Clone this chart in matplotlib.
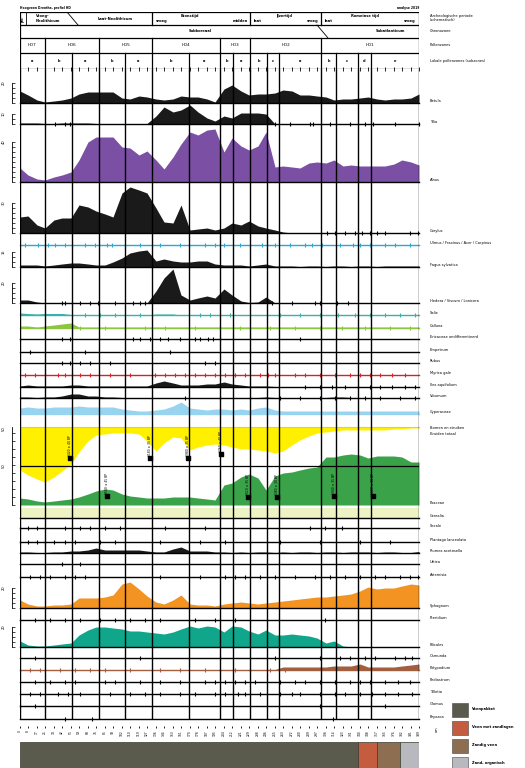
import matplotlib
matplotlib.use("Agg")
import matplotlib.pyplot as plt
from matplotlib.patches import Rectangle

plt.rcParams['font.family'] = 'DejaVu Sans'

W, H = 525, 768
LEFT, RIGHT = 20, 419
FS = 2.6

# sample depths (cm)
depths = [0, 8, 17, 25, 34, 42, 51, 59, 68, 76, 85, 93, 102, 110, 119, 127,
          136, 144, 153, 161, 170, 178, 187, 195, 204, 212, 221, 229, 238, 246, 255, 263,
          272, 280, 289, 297, 306, 314, 323, 331, 340, 348, 357, 365, 374, 382, 391, 399]

zone_bounds = [25, 52, 79, 105, 132, 169, 200, 213, 230, 247, 259, 301, 316, 338, 351]
zone_names = ["HD7", "HD6", "HD5", "HD4", "HD3", "HD2", "HD1"]
zone_edges = [0, 25, 79, 132, 200, 230, 301, 399]
subzone_names = ["a", "b", "a", "b", "a", "b", "a", "b", "a", "b", "c", "a", "b", "c", "d", "e"]

# pollen percentages
betula = [12, 8, 3, 1, 2, 3, 5, 9, 11, 11, 11, 11, 5, 4, 7, 6,
          4, 3, 4, 7, 6, 6, 4, 1, 14, 18, 12, 8, 9, 9, 10, 13,
          12, 8, 8, 7, 6, 3, 4, 4, 5, 6, 4, 3, 4, 4, 5, 9]
tilia = [1, 1, 1, 0.5, 0.5, 1, 1, 1, 1, 0.5, 0.5, 0.5, 0.5, 0.5, 0.5, 0.5,
         8, 17, 12, 14, 19, 12, 6, 3, 8, 6, 11, 11, 11, 10, 0, 0,
         0, 0, 0, 0, 0, 0, 0, 0, 0, 0, 0, 0, 0, 0, 0, 0]
alnus = [14, 7, 3, 2, 5, 7, 10, 22, 40, 45, 45, 45, 35, 34, 27, 31,
         22, 13, 25, 38, 50, 47, 52, 53, 30, 44, 36, 32, 36, 50, 15, 16,
         15, 14, 19, 20, 19, 22, 16, 17, 16, 16, 16, 16, 18, 22, 20, 17]
corylus = [16, 17, 8, 5, 13, 15, 15, 28, 26, 22, 19, 16, 40, 46, 43, 40,
           25, 11, 10, 28, 3, 4, 5, 3, 5, 10, 8, 12, 7, 5, 3, 1,
           0, 0, 0, 0, 0, 0, 0, 0, 0, 0, 0, 0, 0, 0, 0, 0]
fagus = [2, 2, 2, 1, 2, 3, 4, 4, 3, 2, 2, 5, 9, 14, 16, 17,
         6, 8, 6, 5, 5, 6, 6, 3, 2, 2, 2, 1, 2, 3, 1, 1,
         1, 0.5, 1, 1, 0.5, 1, 1, 0.5, 1, 1, 0.5, 1, 1, 1, 1, 1]
hedera = [3, 3, 1, 0, 0, 0, 0, 0, 0, 0, 0, 0, 0, 0, 0, 0,
          12, 25, 34, 8, 3, 5, 7, 5, 14, 8, 2, 0.5, 1, 6, 0, 0,
          0, 0, 0, 0, 0, 0, 0, 0, 0, 0, 0, 0, 0, 0, 0, 0]
salix = [2, 1.5, 1, 1.5, 1.5, 1.5, 0.5, 0, 0, 0, 0, 0, 0, 0, 0, 0,
         1, 1, 1, 0, 0, 0, 0, 0, 0, 0, 0, 0, 0, 0, 0, 0,
         0, 0, 0, 0, 0, 0, 0, 0, 0, 0, 0, 0, 0, 0, 0, 0]
calluna = [2, 2, 1, 2, 3, 4, 5, 1, 1, 1, 1, 1, 1, 1, 1, 1,
           1, 1, 1, 1, 1, 1, 1, 1, 1, 1, 1, 1, 1, 1, 1, 1,
           1, 1, 1, 1, 1, 1, 1, 1, 1, 1, 1, 1, 1, 1, 1, 1]
ilex = [1, 2, 1, 1, 1, 1, 2, 2, 1, 1, 1, 1, 1, 1, 1, 1,
        4, 6, 4, 2, 2, 2, 3, 3, 5, 3, 2, 1, 1, 1, 0.5, 0.5,
        0.5, 0.5, 0.5, 0.5, 0.5, 0.5, 0.5, 0.5, 0.5, 0.5, 0.5, 0.5, 0.5, 0.5, 0.5, 0.5]
viburnum = [1, 1, 0.5, 1, 1, 2, 4, 4, 2, 2, 1, 1, 0.5, 0.5, 0.5, 0.5,
            0.5, 0.5, 0.5, 0.5, 0.5, 0.5, 0.5, 0.5, 0.5, 0.5, 0.5, 0.5, 0.5, 1, 0.5, 0.5,
            0.5, 0.5, 0.5, 0.5, 0.5, 1, 1, 0.5, 0.5, 0.5, 0.5, 0.5, 0.5, 0.5, 0.5, 0.5]
cyperaceae = [6, 7, 6, 6, 7, 7, 7, 8, 7, 7, 7, 7, 5, 4, 3, 3,
              4, 5, 8, 12, 6, 5, 4, 5, 5, 4, 5, 4, 6, 7, 4, 3,
              3, 3, 3, 3, 3, 3, 3, 3, 3, 3, 3, 3, 3, 3, 3, 3]
trees_shrubs = [43, 48, 52, 55, 50, 44, 37, 25, 14, 8, 7, 6, 6, 6, 7, 14,
                24, 16, 10, 11, 23, 20, 18, 17, 18, 20, 22, 22, 23, 24, 26, 24,
                18, 13, 9, 6, 5, 4, 3, 3, 3, 3, 3, 3, 2, 2, 1, 1]
poaceae = [7, 6, 4, 3, 4, 5, 6, 8, 11, 14, 16, 15, 11, 9, 8, 7,
           7, 7, 8, 8, 8, 7, 6, 5, 20, 22, 28, 31, 27, 15, 29, 32,
           33, 35, 37, 38, 48, 48, 50, 51, 50, 47, 49, 49, 49, 48, 43, 43]
cerealia = [10, 10, 10, 10, 10, 10, 10, 10, 10, 10, 10, 10, 10, 10, 10, 10,
            10, 10, 10, 10, 10, 10, 10, 10, 10, 10, 10, 10, 10, 10, 10, 10,
            10, 10, 10, 10, 10, 10, 10, 10, 10, 10, 10, 10, 10, 10, 10, 10]
rumex = [1, 1, 0.5, 0.5, 1, 1, 2, 2, 3, 5, 3, 3, 3, 3, 3, 2,
         1, 1, 4, 6, 2, 2, 2, 1, 1, 0.5, 1, 0.5, 1, 1, 0.5, 1,
         0.5, 1, 1, 0.5, 1, 1, 0.5, 1, 1, 1, 0.5, 1, 1, 0.5, 0.5, 1.5]
sphagnum = [8, 4, 2, 2, 3, 3, 4, 10, 10, 10, 11, 13, 24, 26, 19, 12,
            6, 4, 8, 13, 4, 3, 3, 2, 4, 5, 6, 5, 4, 5, 6, 7,
            8, 9, 10, 11, 11, 12, 13, 14, 17, 21, 19, 20, 20, 22, 24, 23]
filicales = [6, 2, 1, 1, 2, 3, 4, 12, 17, 20, 20, 19, 18, 16, 16, 15,
             14, 13, 15, 18, 21, 19, 21, 20, 15, 21, 20, 16, 13, 17, 12, 12,
             13, 12, 11, 9, 4, 6, 1, 0, 0, 0, 0, 0, 0, 0, 0, 0]
polypodium = [0.5, 0.5, 0.5, 0.5, 0.5, 0.5, 0.5, 0.5, 0.5, 0.5, 0.5, 0.5, 0.5, 0.5, 0.5, 0.5,
              0.5, 0.5, 0.5, 0.5, 0.5, 0.5, 0.5, 0.5, 0.5, 0.5, 0.5, 0.5, 0.5, 0.5, 0.5, 3,
              3, 3, 3, 3, 3, 4, 4, 4, 6, 3, 3, 3, 3, 4, 5, 6]

# presence of rare taxa (depths)
tilia_pres = [25, 35, 45, 50, 255, 270, 290, 293, 310, 330, 345, 353, 375, 399]
corylus_pres = [307, 315, 325, 335, 342, 350, 357, 365, 390, 398]
ulmus_pres = [5, 18, 28, 35, 45, 52, 65, 75, 87, 92, 105, 120, 140, 160, 185, 195,
              204, 220, 242, 255, 270, 285, 292, 302, 320, 333, 340, 350, 365, 375, 390]
hedera_pres = [42, 45, 52, 60, 70, 78, 95, 113, 120, 125, 252, 272, 295, 300, 317, 328]
salix_pres = [65, 80, 95, 120, 180, 190, 200, 210, 260, 280, 300, 318, 335, 350, 365, 380, 395]
calluna_pres = [60, 85, 105, 125, 145, 175, 200, 220, 250, 275, 300, 322, 345, 370, 390]
erica_pres = [0, 42, 50, 113, 120, 130, 140, 148, 160, 175, 180, 188, 193, 200, 280]
empetrum_pres = [10, 65, 150, 230]
rubus_pres = [42, 50, 60, 70, 90, 185, 195]
myrica_pres = [5, 15, 25, 38, 45, 52, 60, 70, 90, 110, 135, 145, 155, 165, 175, 185, 195,
               205, 215, 225, 240, 248, 255, 275, 285, 300, 315, 330, 340, 350, 360, 372, 385]
ilex_pres = [285, 300, 312, 325, 338, 350, 360, 372, 385, 395]
viburnum_pres = [165, 200, 230, 260, 280, 300, 315, 330, 345, 360, 380, 395]
secale_pres = [0, 8, 17, 45, 60, 70, 85, 100, 145, 185, 290, 305, 322]
plantago_pres = [0, 8, 17, 25, 34, 45, 55, 80, 95, 140, 180, 205, 230, 260, 300, 340, 370]
urtica_pres = [42, 60]
artemisia_pres = [0, 10, 20, 30, 45, 55, 65, 140, 180, 205, 215, 225, 240, 255, 275, 295,
                  310, 325, 340, 355, 365, 380, 390, 398]
pteridium_pres = [0, 15, 30, 45, 60, 80, 95, 110, 125, 140, 175, 195, 215, 305]
osmunda_pres = [15, 120, 200, 255, 300, 320, 330, 345, 355, 375, 385, 392]
brown_pres = [0, 10, 20, 40, 55, 70, 85, 110, 140, 160, 185, 200, 215, 230, 250, 265]
pediastrum_pres = [15, 30, 45, 55, 85, 95, 120, 140, 160, 185, 195, 205, 215, 225, 235, 260,
                   275, 285, 300, 315, 330, 340, 350, 365, 378, 390]
tilletia_pres = [10, 20, 38, 48, 60, 90, 110, 125, 140, 160, 175, 195, 205, 218, 225, 240,
                 260, 272, 280, 300, 315, 325, 340, 352, 365, 378, 392]
glomus_pres = [0, 15, 200, 300, 365]
bryozoa_pres = [45, 72, 313]

# radiocarbon dates
date_depths = [50, 130, 168, 201, 87, 228, 257, 314, 353]
date_levels = [47, 47, 47, 51, 9, 8, 8, 9, 9]
date_labels = ["3420 ± 40 BP", "3180 ± 35 BP", "2980 ± 35 BP", "2760 ± 40 BP", "3560 ± 45 BP",
               "2510 ± 35 BP", "2380 ± 30 BP", "1940 ± 35 BP", "1620 ± 30 BP"]

# lithology
litho_start = [0, 338, 357, 380]
litho_end = [338, 357, 380, 399]
litho_colors = ["#5b5b4d", "#c45c3f", "#8e6e50", "#b8b9be"]
litho_names = ["Veenpakket", "Veen met zandlagen", "Zandig veen", "Zand, organisch"]

fig = plt.figure(figsize=(W / 100, H / 100), dpi=100)


def px_axes(left, top, right, bottom):
    return fig.add_axes([left / W, 1 - bottom / H, (right - left) / W, (bottom - top) / H])


def bare(ax):
    for s in ax.spines.values():
        s.set_visible(False)
    ax.set_xticks([])
    ax.set_yticks([])
    ax.patch.set_alpha(0)


def strip(top, base, label, vals=None, color='#1a1a1a', pres=None, line='black', scale=None):
    ax = px_axes(LEFT, top, RIGHT, base)
    bare(ax)
    ax.set_xlim(0, 399)
    ax.set_ylim(0, base - top)
    if vals is not None:
        ax.fill_between(depths, 0, vals, color=color, lw=0, zorder=2)
    ax.plot([0, 399], [0, 0], color=line, lw=1.0, clip_on=False, zorder=3)
    if pres is not None:
        ax.plot(pres, [0] * len(pres), '|', color=line, ms=3, mew=0.8, clip_on=False, zorder=3)
    if scale is not None:
        ax.spines['left'].set_visible(True)
        ax.spines['left'].set_position(('outward', 6))
        ax.spines['left'].set_bounds(0, scale)
        ax.spines['left'].set_linewidth(0.6)
        ax.set_yticks(range(0, scale + 1, 5))
        ax.set_yticklabels([''] * len(range(0, scale + 1, 5)))
        ax.tick_params(axis='y', direction='in', length=2, width=0.5)
        ax.text(-16, scale, str(scale), fontsize=FS, rotation=90, ha='center', va='center')
    fig.text(430 / W, 1 - (base - 2) / H, label, fontsize=FS, va='center', ha='left')
    return ax


# header
hd = px_axes(LEFT, 12, RIGHT, 69)
bare(hd)
hd.set_xlim(0, 399)
hd.set_ylim(69, 12)
for y in [12, 25, 38, 53, 69]:
    hd.plot([0, 399], [y, y], color='black', lw=0.9)
for x in [0, 399]:
    hd.plot([x, x], [12, 69], color='black', lw=0.9)
for x in [132, 230, 301]:
    hd.plot([x, x], [12, 25], color='black', lw=0.9)
hd.plot([6, 6], [12, 25], color='black', lw=0.6)
hd.plot([47, 58], [12, 25], color='black', lw=0.6)
hd.plot([297, 308], [25, 38], color='black', lw=0.6)
for x in zone_edges[1:-1]:
    hd.plot([x, x], [38, 53], color='black', lw=0.9)
for x in zone_bounds:
    hd.plot([x, x], [53, 69], color='black', lw=0.9)
hd.plot(depths, [69] * len(depths), '|', color='black', ms=3, mew=0.6, clip_on=False)
hd.text(3, 18.5, "per.", fontsize=2.2, rotation=90, ha='center', va='center', weight='bold')
hd.text(16, 18.5, "Vroeg-\nNeolithicum", fontsize=FS, ha='left', va='center', weight='bold')
hd.text(95, 18.5, "Laat-Neolithicum", fontsize=FS, ha='center', va='center', weight='bold')
hd.text(170, 16, "Bronstijd", fontsize=FS, ha='center', va='center', weight='bold')
hd.text(136, 21, "vroeg", fontsize=FS, ha='left', va='center', weight='bold')
hd.text(228, 21, "midden", fontsize=FS, ha='right', va='center', weight='bold')
hd.text(265, 16, "IJzertijd", fontsize=FS, ha='center', va='center', weight='bold')
hd.text(234, 21, "laat", fontsize=FS, ha='left', va='center', weight='bold')
hd.text(299, 21, "vroeg", fontsize=FS, ha='right', va='center', weight='bold')
hd.text(345, 16, "Romeinse tijd", fontsize=FS, ha='center', va='center', weight='bold')
hd.text(305, 21, "laat", fontsize=FS, ha='left', va='center', weight='bold')
hd.text(396, 21, "vroeg", fontsize=FS, ha='right', va='center', weight='bold')
hd.text(180, 31.5, "Subboreaal", fontsize=FS, ha='center', va='center', weight='bold')
hd.text(370, 31.5, "Subatlanticum", fontsize=FS, ha='center', va='center', weight='bold')
for i, name in enumerate(zone_names):
    hd.text((zone_edges[i] + zone_edges[i + 1]) / 2, 45.5, name, fontsize=3, ha='center', va='center')
sub_edges = [0] + zone_bounds + [399]
for i, name in enumerate(subzone_names):
    hd.text((sub_edges[i] + sub_edges[i + 1]) / 2, 61, name, fontsize=FS, ha='center', va='center',
            weight='bold')
fig.text(20 / W, 1 - 9 / H, "Hoogveen Drenthe, profiel HD", fontsize=2.2, weight='bold')
fig.text(419 / W, 1 - 9 / H, "analyse 2019", fontsize=2.2, ha='right', weight='bold')
for y, txt in [(18, "Archeologische periode\n(schematisch)"), (31, "Chronozone"),
               (45, "Pollenzones"), (61, "Lokale pollenzones (subzones)")]:
    fig.text(430 / W, 1 - y / H, txt, fontsize=FS, va='center')

# pollen strips
strip(69, 103, "Betula", betula, scale=20)
strip(103, 124, "Tilia", tilia, pres=tilia_pres, scale=10)
strip(124, 182, "Alnus", alnus, color='#7b4fa3', scale=40)
strip(182, 233, "Corylus", corylus, pres=corylus_pres, scale=30)
strip(233, 245, "Ulmus / Fraxinus / Acer / Carpinus", None, pres=ulmus_pres, line='#29a8d8')
strip(245, 267, "Fagus sylvatica", fagus, scale=15)
strip(267, 303, "Hedera / Viscum / Lonicera", hedera, pres=hedera_pres, scale=20)
strip(303, 315, "Salix", salix, color='#3ab0a8', pres=salix_pres, line='#3ab0a8')
strip(315, 328, "Calluna", calluna, color='#8cc63f', pres=calluna_pres, line='#8cc63f')
strip(328, 339, "Ericaceae ondifferentieerd", None, pres=erica_pres)
strip(339, 352, "Empetrum", None, pres=empetrum_pres)
strip(352, 363, "Rubus", None, pres=rubus_pres)
strip(363, 375, "Myrica gale", None, pres=myrica_pres, line='#d2232a')
strip(375, 387, "Ilex aquifolium", ilex, pres=ilex_pres)
strip(387, 398, "Viburnum", viburnum, pres=viburnum_pres)
strip(398, 414, "Cyperaceae", cyperaceae, color='#98d4f0', line='#98d4f0')

# trees/shrubs vs herbs
ap = px_axes(LEFT, 427, RIGHT, 505)
bare(ap)
ap.set_xlim(0, 399)
ap.set_ylim(0, 78)
ap.fill_between(depths, [78 - v for v in trees_shrubs], 78, color='#fff000', lw=0, zorder=2)
ap.fill_between(depths, 0, poaceae, color='#3aa349', lw=0, zorder=2)
ap.plot([0, 399], [78, 78], color='#e6d800', lw=0.8, clip_on=False)
ap.plot([0, 399], [39, 39], color='black', lw=0.9, zorder=3)
ap.spines['left'].set_visible(True)
ap.spines['left'].set_position(('outward', 6))
ap.spines['left'].set_linewidth(0.6)
ap.set_yticks(range(0, 79, 8))
ap.set_yticklabels([''] * len(range(0, 79, 8)))
ap.tick_params(axis='y', direction='in', length=2, width=0.5)
ap.text(-16, 76, "50", fontsize=FS, rotation=90, ha='center', va='center')
ap.text(-16, 39, "50", fontsize=FS, rotation=90, ha='center', va='center')
ap.scatter(date_depths, date_levels, marker='s', s=6, color='black', zorder=4)
for d, lv, lab in zip(date_depths, date_levels, date_labels):
    ap.text(d, lv + 2, lab, fontsize=2.2, rotation=90, ha='center', va='bottom', zorder=4)
fig.text(430 / W, 1 - 428 / H, "Bomen en struiken", fontsize=FS, va='center')
fig.text(430 / W, 1 - 434 / H, "Kruiden totaal", fontsize=FS, va='center')
fig.text(430 / W, 1 - 503 / H, "Poaceae", fontsize=FS, va='center')

strip(505, 518, "Cerealia", cerealia, color='#eef3c4')
strip(518, 528, "Secale", None, pres=secale_pres)
strip(528, 542, "Plantago lanceolata", None, pres=plantago_pres)
strip(542, 553, "Rumex acetosella", rumex)
strip(553, 564, "Urtica", None, pres=urtica_pres)
strip(564, 577, "Artemisia", None, pres=artemisia_pres)
strip(577, 608, "Sphagnum", sphagnum, color='#f39322', scale=20)
strip(608, 620, "Pteridium", None, pres=pteridium_pres)
strip(620, 647, "Filicales", filicales, color='#10a68b', scale=20)
strip(647, 658, "Osmunda", None, pres=osmunda_pres)
strip(658, 670, "Polypodium", polypodium, color='#a25f3f', pres=brown_pres, line='#a25f3f')
strip(670, 682, "Pediastrum", None, pres=pediastrum_pres)
strip(682, 694, "Tilletia", None, pres=tilletia_pres)
strip(694, 706, "Glomus", None, pres=glomus_pres)
bottom = strip(706, 719, "Bryozoa", None, pres=bryozoa_pres)

# sample depths along the bottom
bottom.plot(depths, [-8] * len(depths), '|', color='black', ms=2, mew=0.6, clip_on=False)
for d in depths:
    bottom.text(d, -11, str(d), fontsize=2.2, rotation=90, ha='center', va='top', clip_on=False)
fig.text(437 / W, 1 - 729 / H, "cm", fontsize=FS, rotation=90, va='center', ha='center')

# zone boundaries
ov = px_axes(LEFT, 69, RIGHT, 719)
bare(ov)
ov.set_xlim(0, 399)
ov.set_ylim(0, 1)
for x in [0] + zone_bounds + [399]:
    ov.axvline(x, color='black', lw=1.0, zorder=5)

# lithology
lit = px_axes(LEFT, 742, RIGHT, 768)
bare(lit)
lit.set_xlim(0, 399)
lit.set_ylim(0, 1)
lit.barh(0.5, [e - s for s, e in zip(litho_start, litho_end)], left=litho_start, height=1,
         color=litho_colors, edgecolor='#3a3a30', lw=0.5)

leg = px_axes(450, 700, 525, 768)
bare(leg)
leg.set_xlim(450, 525)
leg.set_ylim(768, 700)
for i, (c, name) in enumerate(zip(litho_colors, litho_names)):
    y0 = 703 + i * 18
    leg.add_patch(Rectangle((452, y0), 16, 14, facecolor=c, edgecolor='#444444', lw=0.4))
    leg.text(472, y0 + 6, name, fontsize=FS, va='center', ha='left', weight='bold')

fig.savefig("out.png", dpi=100)
